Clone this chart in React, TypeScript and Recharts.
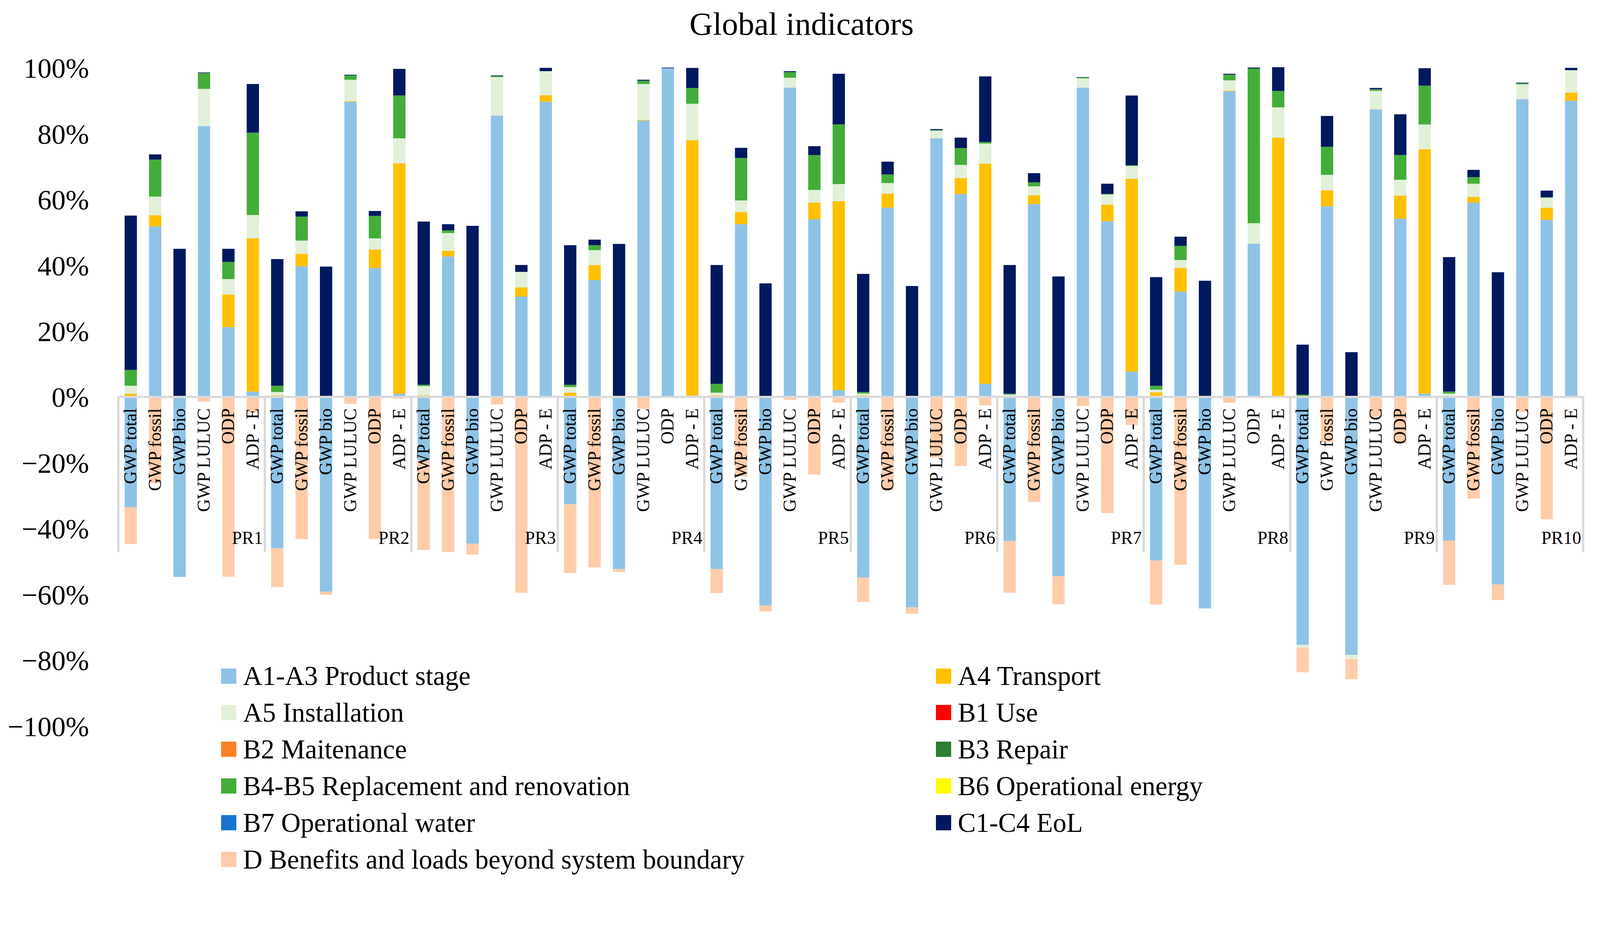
import React from 'react';
import { BarChart, Bar, XAxis, YAxis, ReferenceLine, Legend } from 'recharts';

// categories: 10 products x 6 indicators
const GROUPS = ['PR1', 'PR2', 'PR3', 'PR4', 'PR5', 'PR6', 'PR7', 'PR8', 'PR9', 'PR10'];
const INDICATORS = ['GWP total', 'GWP fossil', 'GWP bio', 'GWP LULUC', 'ODP', 'ADP - E'];

// share of each life-cycle stage (%), one row per product, columns in INDICATORS order
const A1_A3 = [
  -33.5, 51.8, -54.7, 82.3, 21.2, 1.6,
  -46.0, 39.7, -59.2, 89.7, 39.2, 1.0,
  -19.3, 42.7, -44.6, 85.5, 30.5, 89.7,
  -32.6, 35.5, -52.3, 84.0, 99.9, 0.4,
  -52.3, 52.5, -63.4, 94.0, 54.0, 2.1,
  -54.9, 57.5, -63.9, 78.6, 61.6, 4.0,
  -43.8, 58.6, -54.5, 94.0, 53.4, 7.7,
  -49.7, 32.0, -64.3, 92.9, 46.6, 0.2,
  -75.3, 57.9, -78.4, 87.4, 54.2, 1.0,
  -43.7, 59.0, -57.0, 90.5, 53.8, 90.0,
];
const A4 = [
  1.0, 3.4, 0, 0, 9.9, 46.6,
  0.5, 3.8, 0, 0.2, 5.6, 70.0,
  0.5, 1.7, 0, 0, 2.8, 2.0,
  1.3, 4.6, 0, 0.2, 0, 77.6,
  0.5, 3.7, 0, 0, 5.1, 57.4,
  0.5, 4.3, 0, 0, 4.9, 66.9,
  0.3, 2.7, 0, 0, 5.0, 58.6,
  1.4, 7.2, 0, 0.2, 0, 78.6,
  0, 4.9, 0, 0, 7.0, 74.3,
  0.2, 1.8, 0, 0, 3.7, 2.5,
];
const A5 = [
  2.4, 5.7, 0, 11.3, 4.7, 7.1,
  1.0, 4.0, 0, 6.5, 3.4, 7.6,
  2.8, 5.4, 0, 11.7, 4.7, 7.3,
  1.7, 4.5, 0, 10.9, 0, 11.1,
  0.8, 3.5, 0, 3.0, 3.8, 5.2,
  0.5, 3.2, 0, 2.3, 4.0, 6.1,
  0.4, 2.7, 0, 2.8, 3.1, 3.9,
  0.8, 2.4, 0, 3.1, 6.2, 9.2,
  -0.9, 4.7, -1.3, 5.6, 4.8, 7.5,
  0.8, 4.0, 0, 4.5, 3.0, 6.8,
];
const B4_B5 = [
  4.8, 11.2, 0, 4.8, 5.2, 25.0,
  1.9, 7.3, 0, 1.3, 6.8, 13.0,
  0.4, 0.8, 0, 0.3, 0, 0,
  0.7, 1.5, 0, 1.0, 0, 4.8,
  2.7, 12.9, 0, 1.7, 10.6, 18.1,
  0.5, 2.6, 0, 0.2, 5.1, 0.5,
  0.3, 1.2, 0, 0.3, 0.2, 0.2,
  1.2, 4.3, 0, 1.7, 47.0, 5.0,
  0.7, 8.5, 0, 0.5, 7.5, 11.8,
  0.6, 2.0, 0, 0.3, 0.2, 0,
];
const C1_C4 = [
  46.9, 1.6, 45.0, 0.2, 4.0, 14.8,
  38.5, 1.6, 39.6, 0.2, 1.5, 8.1,
  49.6, 1.9, 52.0, 0.2, 2.1, 1.0,
  42.4, 1.7, 46.5, 0.3, 0.2, 6.1,
  36.1, 3.1, 34.5, 0.3, 2.7, 15.4,
  35.9, 3.9, 33.7, 0.3, 3.2, 19.9,
  39.1, 2.8, 36.6, 0.1, 3.1, 21.2,
  33.0, 2.8, 35.3, 0.3, 0.3, 7.2,
  15.2, 9.4, 13.6, 0.4, 12.4, 5.3,
  40.9, 2.2, 37.9, 0.2, 2.0, 0.7,
];
const D_BEYOND = [
  -11.2, -26.2, 0, -1.4, -54.6, -4.7,
  -11.8, -43.2, -0.9, -2.1, -43.2, -0.5,
  -27.2, -47.1, -3.3, -2.3, -59.5, 0,
  -20.9, -51.8, -0.9, -3.6, 0, 0,
  -7.3, -24.2, -1.8, -0.9, -23.6, -1.7,
  -7.4, -28.3, -2.0, -18.4, -21.0, -2.6,
  -15.7, -31.9, -8.5, -2.8, -35.3, -8.5,
  -13.4, -51.0, 0, -1.8, 0, 0,
  -7.5, -13.8, -6.1, -6.1, -14.1, 0,
  -13.4, -30.9, -4.7, -4.6, -37.2, 0,
];
// B1, B2, B3, B6 and B7 contribute nothing anywhere
const NONE = [
  0, 0, 0, 0, 0, 0, 0, 0, 0, 0, 0, 0, 0, 0, 0, 0, 0, 0, 0, 0,
  0, 0, 0, 0, 0, 0, 0, 0, 0, 0, 0, 0, 0, 0, 0, 0, 0, 0, 0, 0,
  0, 0, 0, 0, 0, 0, 0, 0, 0, 0, 0, 0, 0, 0, 0, 0, 0, 0, 0, 0,
];

const Y_TICKS = [-100, -80, -60, -40, -20, 0, 20, 40, 60, 80, 100];

const SERIES = [
  { key: 'a13', name: 'A1-A3 Product stage', color: '#8EC3E6', values: A1_A3 },
  { key: 'a4', name: 'A4 Transport', color: '#FFC000', values: A4 },
  { key: 'a5', name: 'A5 Installation', color: '#E2F0D9', values: A5 },
  { key: 'b1', name: 'B1 Use', color: '#FF0000', values: NONE },
  { key: 'b2', name: 'B2 Maitenance', color: '#FF7F27', values: NONE },
  { key: 'b3', name: 'B3 Repair', color: '#2E7D32', values: NONE },
  { key: 'b45', name: 'B4-B5 Replacement and renovation', color: '#43AD3A', values: B4_B5 },
  { key: 'b6', name: 'B6 Operational energy', color: '#FFFF00', values: NONE },
  { key: 'b7', name: 'B7 Operational water', color: '#1874CD', values: NONE },
  { key: 'c14', name: 'C1-C4 EoL', color: '#00195E', values: C1_C4 },
  { key: 'd', name: 'D Benefits and loads beyond system boundary', color: '#FFCCAA', values: D_BEYOND },
];

const data = GROUPS.flatMap((g, gi) =>
  INDICATORS.map((ind, ii) => {
    const row: Record<string, any> = { cat: `${g}|${ind}` };
    SERIES.forEach((s) => { row[s.key] = s.values[gi * INDICATORS.length + ii]; });
    return row;
  })
);

// layout (page renders ~1.05x, so sizes are in css px)
const FONT = '"Liberation Serif", "DejaVu Serif", serif';
const CHART_W = 4071;
const CHART_H = 2246;
const Y_AXIS_W = 190;
const X_AXIS_H = 30;
const MARGIN = { top: 164, right: 26, bottom: 366, left: 105 };
const PLOT_W = CHART_W - MARGIN.left - Y_AXIS_W - MARGIN.right;
const PLOT_H = CHART_H - MARGIN.top - MARGIN.bottom - X_AXIS_H;
const ZERO_Y = MARGIN.top + PLOT_H / 2;
const BAND = PLOT_W / data.length;
const GRID = '#D9D9D9';
const LABEL_SIZE = 46;

function CatTick(props: any) {
  const { x, payload } = props;
  const [grp, ind] = String(payload.value).split('|');
  const pos = INDICATORS.indexOf(ind);
  const half = BAND / 2;
  return (
    <g>
      <text
        transform={`translate(${x + 15},${ZERO_Y + 30}) rotate(-90)`}
        textAnchor="end"
        fontSize={LABEL_SIZE}
        fontFamily={FONT}
        fill="#000"
      >
        {ind}
      </text>
      {pos === 0 && (
        <line x1={x - half} x2={x - half} y1={ZERO_Y} y2={ZERO_Y + 398} stroke={GRID} strokeWidth={5.5} />
      )}
      {pos === INDICATORS.length - 1 && (
        <g>
          <line x1={x + half} x2={x + half} y1={ZERO_Y} y2={ZERO_Y + 398} stroke={GRID} strokeWidth={5.5} />
          <text x={x + half - 5} y={ZERO_Y + 377} textAnchor="end" fontSize={LABEL_SIZE} fontFamily={FONT} fill="#000">
            {grp}
          </text>
        </g>
      )}
    </g>
  );
}

const LEGEND_TOP = 1670;
const LEGEND_ROW0 = 1722;
const LEGEND_STEP = 93.9;

function LegendBox(props: any) {
  const items = props.payload || [];
  return (
    <div style={{ position: 'relative', width: CHART_W, height: 580, fontFamily: FONT }}>
      {items.map((it: any, i: number) => {
        const col = i % 2;
        const row = Math.floor(i / 2);
        const cy = LEGEND_ROW0 + row * LEGEND_STEP - LEGEND_TOP;
        const sx = col === 0 ? 558 : 2388;
        return (
          <div key={it.value} style={{ position: 'absolute', left: sx, top: cy - 35, height: 70, display: 'flex', alignItems: 'center', whiteSpace: 'nowrap' }}>
            <span style={{ display: 'inline-block', width: 39, height: 39, background: it.color }} />
            <span style={{ marginLeft: 17, fontSize: 69, lineHeight: '70px', color: '#000' }}>{it.value}</span>
          </div>
        );
      })}
    </div>
  );
}

export default function App() {
  return (
    <div style={{ position: 'relative', width: CHART_W, height: CHART_H, fontFamily: FONT, background: '#fff' }}>
      <div
        style={{ position: 'absolute', left: 1544, top: 12, width: 1000, textAlign: 'center', fontSize: 83, lineHeight: '83px', color: '#000' }}
      >
        Global indicators
      </div>
      <BarChart
        width={CHART_W}
        height={CHART_H}
        data={data}
        margin={MARGIN}
        stackOffset="sign"
        barSize={31.5}
      >
        <XAxis
          dataKey="cat"
          interval={0}
          axisLine={false}
          tickLine={false}
          height={X_AXIS_H}
          tick={(p: any) => <CatTick {...p} />}
        />
        <YAxis
          type="number"
          domain={[-100, 100]}
          ticks={Y_TICKS}
          width={Y_AXIS_W}
          axisLine={false}
          tickLine={false}
          tickSize={0}
          tickMargin={75}
          tick={{ fontSize: 72, fontFamily: FONT, fill: '#000' }}
          tickFormatter={(v: number) => (v < 0 ? `\u2212${Math.abs(v)}%` : `${v}%`)}
        />
        {SERIES.map((s) => (
          <Bar key={s.key} dataKey={s.key} name={s.name} stackId="lca" fill={s.color} isAnimationActive={false} />
        ))}
        <ReferenceLine y={0} stroke={GRID} strokeWidth={5.5} />
        <Legend
          layout="vertical"
          align="center"
          verticalAlign="middle"
          content={(p: any) => <LegendBox {...p} />}
          wrapperStyle={{ position: 'absolute', left: 0, top: LEGEND_TOP, width: CHART_W, height: 580 }}
        />
      </BarChart>
    </div>
  );
}
